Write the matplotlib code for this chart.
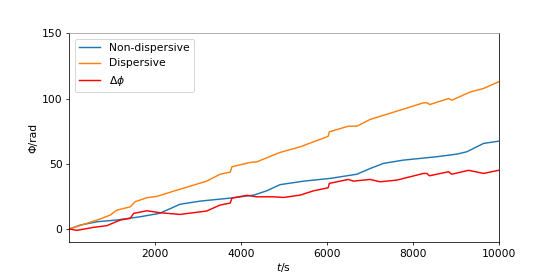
import matplotlib.pyplot as plt

t_nd = [1, 250, 650, 1100, 1650, 2100, 2350, 2580, 3050, 3750, 4300, 4600, 4910,
        5460, 6080, 6700, 7010, 7320, 7780, 8560, 9030, 9260, 9650, 10000]
nondisp = [0, 3, 5.6, 6.9, 9.4, 12, 15.6, 19, 21.4, 23.7, 26, 29.3, 34,
           36.7, 38.8, 42, 46.4, 50.3, 52.8, 55.4, 57.4, 59.2, 65.6, 67.3]

t_d = [1, 720, 955, 1110, 1420, 1480, 1540, 1810, 2040, 2430, 2900, 3200, 3515,
       3750, 3790, 4210, 4370, 4910, 5380, 6030, 6060, 6500, 6700, 7010, 7700,
       8250, 8330, 8400, 8835, 8910, 9340, 9650, 10000]
disp = [0, 7.7, 10.7, 14.5, 17, 19, 21, 24, 25, 29, 33.7, 36.7, 42,
        43.6, 47.7, 51, 51.5, 58.7, 63, 71, 74.5, 78.8, 78.8, 84, 91,
        96.7, 96.7, 95.4, 100, 98.7, 105, 107.7, 112.8]

t_dp = [1, 180, 566, 877, 1190, 1420, 1470, 1500, 1810, 2120, 2580, 3200, 3515,
        3750, 3790, 4140, 4370, 4760, 4990, 5380, 5690, 6030, 6060, 6500, 6620,
        7010, 7240, 7630, 8250, 8330, 8390, 8835, 8910, 9300, 9650, 10000]
dphi = [0, -1, 1.3, 2.6, 6.9, 8.2, 10.5, 12, 14, 12.5, 11.2, 13.8, 18.4,
        19.9, 23.7, 25.8, 24.7, 24.7, 24.2, 26, 29.3, 31.6, 35, 38, 36.7,
        38, 36.2, 37.5, 42.6, 42.6, 40.8, 43.9, 42, 45, 42.6, 45]

plt.rcParams['font.size'] = 11.2

fig = plt.figure(figsize=(8, 4), dpi=69.25)
fig.subplots_adjust(bottom=0.126)
ax = fig.add_subplot(111)
ax.plot(t_nd, nondisp, label="Non-dispersive")
ax.plot(t_d, disp, label="Dispersive")
ax.plot(t_dp, dphi, color="r", label=r"$\Delta\phi$")
ax.set_xlim(1, 10000)
ax.set_ylim(-10, 150)
ax.set_yticks([0, 50, 100, 150])
ax.set_xlabel("$t$/s", labelpad=2)
ax.set_ylabel("Φ/rad")
ax.spines["top"].set_color("#999999")
ax.legend(loc="upper left")
fig.savefig("out.png", dpi=69.25)
